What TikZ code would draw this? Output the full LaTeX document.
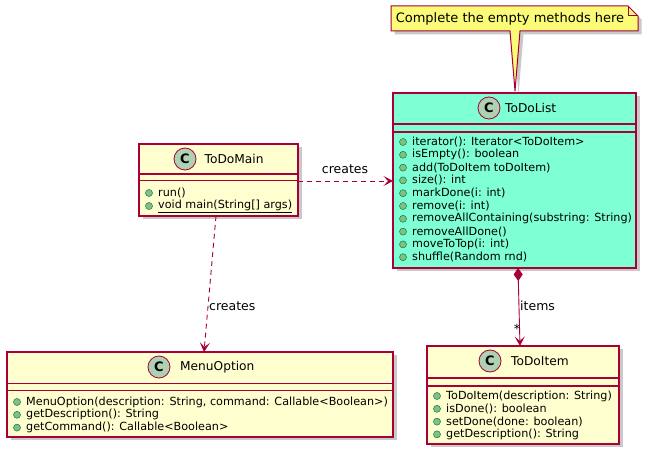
\documentclass[tikz,border=0pt]{standalone}
\usepackage{fontspec}
\setmainfont{DejaVu Sans}
\usetikzlibrary{shadows,arrows.meta}
\definecolor{cbord}{HTML}{A80036}
\definecolor{cfill}{HTML}{FEFECE}
\definecolor{aqua}{HTML}{7FFFD4}
\definecolor{notefill}{HTML}{FBFB77}
\definecolor{circfill}{HTML}{ADD1B2}
\definecolor{dotfill}{HTML}{84BE84}
\definecolor{dotbord}{HTML}{038048}
\newcommand\memberlist[5]{% #1 prefix, #2 x-left, #3 y-start, #4 step, #5 list
  \foreach \t [count=\i from 0] in {#5} {
    \node[mdot] (#1d\i) at (#2+10, #3+\i*#4) {};
    \node[member] (#1m\i) at (#2+19, #3+\i*#4) {\t};
  }}
\begin{document}
\begin{tikzpicture}[x=1pt,y=-1pt,
  shad/.style={drop shadow={shadow xshift=3.5pt,shadow yshift=-3.5pt,opacity=0.3,fill=black!70}},
  classbox/.style={draw=cbord, line width=1.3pt, fill=cfill, inner sep=0pt, outer sep=0pt, shad},
  sep/.style={draw=cbord, line width=1.1pt},
  cicon/.style={circle, draw=cbord, line width=0.8pt, fill=circfill, minimum size=22pt, inner sep=0pt,
    font=\bfseries\fontsize{13}{13}\selectfont},
  cname/.style={anchor=west, inner sep=0pt, font=\fontsize{12.2}{14}\selectfont},
  mdot/.style={circle, draw=dotbord, line width=0.5pt, fill=dotfill, minimum size=7pt, inner sep=0pt},
  member/.style={anchor=west, inner sep=0pt, font=\fontsize{11.2}{13}\selectfont},
  conn/.style={draw=cbord, line width=0.9pt},
  lbl/.style={inner sep=0pt, font=\fontsize{12.5}{14}\selectfont},
  tipv/.tip={Stealth[length=9.5pt,width=10pt,inset=4.5pt]},
  arr/.style={-tipv}
]
\useasboundingbox (0,0) rectangle (649,457);

% ---- Note ----
\filldraw[draw=cbord, line width=1pt, fill=notefill, shad]
  (391,6) -- (628,6) -- (638,16) -- (638,31) -- (520,31) -- (515,91) -- (510,31) -- (391,31) -- cycle;
\draw[draw=cbord, line width=1pt] (628,6) -- (628,16) -- (638,16);
\node[inner sep=0pt, font=\fontsize{13}{15}\selectfont] (note) at (510,18.5) {Complete the empty methods here};

% ---- ToDoMain ----
\node[classbox, minimum width=159pt, minimum height=72pt] (main) at (218.5,180) {};
\draw[sep] (main.west |- 0,174) -- (main.east |- 0,174);
\draw[sep] (main.west |- 0,180.5) -- (main.east |- 0,180.5);
\node[cicon] (mainC) at (185,159) {C};
\node[cname] (mainN) at (204.5,159) {ToDoMain};
\memberlist{tm}{139}{193}{13}{{run()},{\underline{void main(String[] args)}}}

% ---- ToDoList ----
\node[classbox, fill=aqua, minimum width=243pt, minimum height=175pt] (list) at (514.5,180.5) {};
\draw[sep] (list.west |- 0,124) -- (list.east |- 0,124);
\draw[sep] (list.west |- 0,132) -- (list.east |- 0,132);
\node[cicon] (listC) at (489,108) {C};
\node[cname] (listN) at (505,108) {ToDoList};
\memberlist{tl}{393}{142}{12.8}{{iterator(): Iterator<ToDoItem>},{isEmpty(): boolean},{add(ToDoItem toDoItem)},{size(): int},{markDone(i: int)},{remove(i: int)},{removeAllContaining(substring: String)},{removeAllDone()},{moveToTop(i: int)},{shuffle(Random rnd)}}

% ---- MenuOption ----
\node[classbox, minimum width=386pt, minimum height=85pt] (menu) at (200,394.5) {};
\draw[sep] (menu.west |- 0,383.3) -- (menu.east |- 0,383.3);
\draw[sep] (menu.west |- 0,390.7) -- (menu.east |- 0,390.7);
\node[cicon] (menuC) at (159,367) {C};
\node[cname] (menuN) at (180,367) {MenuOption};
\memberlist{mo}{7}{402}{12.8}{{MenuOption(description: String, command: Callable<Boolean>)},{getDescription(): String},{getCommand(): Callable<Boolean>}}

% ---- ToDoItem ----
\node[classbox, minimum width=192pt, minimum height=98pt] (item) at (523,395) {};
\draw[sep] (item.west |- 0,378) -- (item.east |- 0,378);
\draw[sep] (item.west |- 0,386) -- (item.east |- 0,386);
\node[cicon] (itemC) at (490,361) {C};
\node[cname] (itemN) at (511,361) {ToDoItem};
\memberlist{ti}{427}{396}{12.8}{{ToDoItem(description: String)},{isDone(): boolean},{setDone(done: boolean)},{getDescription(): String}}

% ---- Connectors ----
\draw[conn, dashed, dash pattern=on 5pt off 4pt, arr] (main.east |- 0,181) -- (list.west |- 0,181);
\node[lbl] (l1) at (345,169) {creates};

\draw[conn, dashed, dash pattern=on 5pt off 4pt, arr] (main.south -| 216,0) -- (menu.north -| 204,0);
\node[lbl, anchor=west] (l2) at (209,306) {creates};

\draw[conn, {Diamond[length=13pt,width=9pt]}-tipv]
  (list.south -| 518,0) -- (item.north -| 520,0);
\node[lbl, anchor=west] (l3) at (520,306) {items};
\node[lbl] (l4) at (517,329) {*};
\end{tikzpicture}
\end{document}
